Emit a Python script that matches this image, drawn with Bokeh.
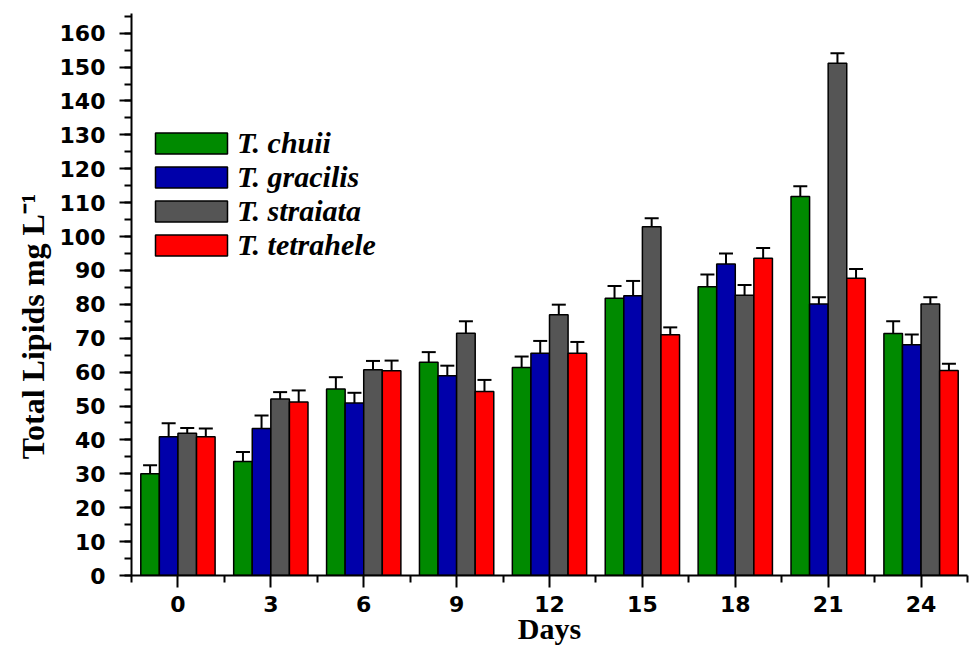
from bokeh.plotting import figure
from bokeh.models import (ColumnDataSource, Whisker, TeeHead, Legend, LegendItem,
                          FixedTicker, SingleIntervalTicker, Range1d)
from bokeh.transform import dodge
from bokeh.embed import file_html
from bokeh.resources import INLINE

days = [0, 3, 6, 9, 12, 15, 18, 21, 24]
series_names = ["T. chuii", "T. gracilis", "T. straiata", "T. tetrahele"]
chuii = [30.0, 33.6, 55.0, 62.9, 61.4, 81.8, 85.2, 111.8, 71.4]
chuii_err = [2.5, 2.8, 3.5, 3.0, 3.2, 3.6, 3.6, 3.0, 3.6]
gracilis = [40.9, 43.4, 50.9, 58.9, 65.6, 82.5, 91.9, 80.1, 68.1]
gracilis_err = [4.0, 3.8, 3.0, 3.0, 3.6, 4.4, 3.1, 2.0, 3.0]
straiata = [42.0, 52.1, 60.7, 71.5, 76.9, 102.9, 82.7, 151.1, 80.1]
straiata_err = [1.5, 2.0, 2.6, 3.5, 3.0, 2.5, 3.0, 3.0, 2.0]
tetrahele = [40.9, 51.2, 60.4, 54.3, 65.6, 71.0, 93.6, 87.7, 60.5]
tetrahele_err = [2.5, 3.4, 3.0, 3.4, 3.3, 2.2, 3.0, 2.7, 2.0]
y_ticks_interval = 10
x_title = "Days"
y_title = "Total Lipids mg L\u207b\u00b9"

values = [chuii, gracilis, straiata, tetrahele]
errors = [chuii_err, gracilis_err, straiata_err, tetrahele_err]
colors = ["#008a00", "#0000aa", "#555555", "#ff0000"]
offsets = [-0.9, -0.3, 0.3, 0.9]
bar_w = 0.6

p = figure(width=971, height=651, output_backend="svg", toolbar_location=None,
           x_range=Range1d(-1.5, 25.5), y_range=Range1d(0, 165.8),
           min_border_left=131, min_border_right=4, min_border_top=13,
           min_border_bottom=76)
p.outline_line_color = None
p.xgrid.visible = False
p.ygrid.visible = False
p.background_fill_color = "white"

items = []
for name, vals, errs, col, off in zip(series_names, values, errors, colors, offsets):
    src = ColumnDataSource(dict(
        days=days, val=vals,
        upper=[v + e for v, e in zip(vals, errs)],
        lower=[v - e for v, e in zip(vals, errs)]))
    r = p.vbar(x=dodge("days", off), top="val", bottom=0, width=bar_w, source=src,
               fill_color=col, line_color="black", line_width=1.5)
    w = Whisker(source=src, base=dodge("days", off), upper="upper", lower="lower",
                dimension="height", line_color="black", line_width=2,
                upper_head=TeeHead(size=14, line_width=2, line_color="black"),
                lower_head=TeeHead(size=14, line_width=2, line_color="black"))
    p.add_layout(w)
    items.append(LegendItem(label=name, renderers=[r]))

legend = Legend(items=items, location=(15, 313), orientation="vertical",
                glyph_width=90, glyph_height=26, label_standoff=1, spacing=0,
                padding=0, margin=0, border_line_color=None,
                background_fill_alpha=0,
                label_text_font="Liberation Serif", label_text_font_style="bold italic",
                label_text_font_size="30px", label_text_color="black",
                label_height=32)
p.add_layout(legend)

# x axis
p.xaxis.ticker = FixedTicker(ticks=days,
                             minor_ticks=[d - 1.5 for d in days] + [days[-1] + 1.5])
p.xaxis.axis_label = x_title
p.xaxis.axis_label_text_font = "Liberation Serif"
p.xaxis.axis_label_text_font_style = "bold"
p.xaxis.axis_label_text_font_size = "30px"
p.xaxis.axis_label_standoff = -3
p.xaxis.major_label_text_font = "DejaVu Sans"
p.xaxis.major_label_text_font_style = "bold"
p.xaxis.major_label_text_font_size = "22px"
p.xaxis.major_label_standoff = 8
p.xaxis.major_tick_out = 12
p.xaxis.major_tick_in = 0
p.xaxis.minor_tick_out = 7
p.xaxis.minor_tick_in = 0

# y axis (trailing en-spaces push the centred title a little lower, as in the original)
p.yaxis.ticker = SingleIntervalTicker(interval=y_ticks_interval, num_minor_ticks=2)
p.yaxis.axis_label = y_title + "\u2002\u2002\u2002\u2002"
p.yaxis.axis_label_text_font = "Liberation Serif"
p.yaxis.axis_label_text_font_style = "bold"
p.yaxis.axis_label_text_font_size = "32px"
p.yaxis.axis_label_standoff = 6
p.yaxis.major_label_text_font = "DejaVu Sans"
p.yaxis.major_label_text_font_style = "bold"
p.yaxis.major_label_text_font_size = "22px"
p.yaxis.major_label_standoff = 14
p.yaxis.major_tick_out = 12
p.yaxis.major_tick_in = 0
p.yaxis.minor_tick_out = 7
p.yaxis.minor_tick_in = 0

for ax in (p.xaxis, p.yaxis):
    ax.axis_line_width = 2
    ax.major_tick_line_width = 2
    ax.minor_tick_line_width = 2
    ax.axis_line_color = "black"
    ax.major_label_text_color = "black"
    ax.axis_label_text_color = "black"

open("out.html", "w").write(file_html(p, INLINE))
